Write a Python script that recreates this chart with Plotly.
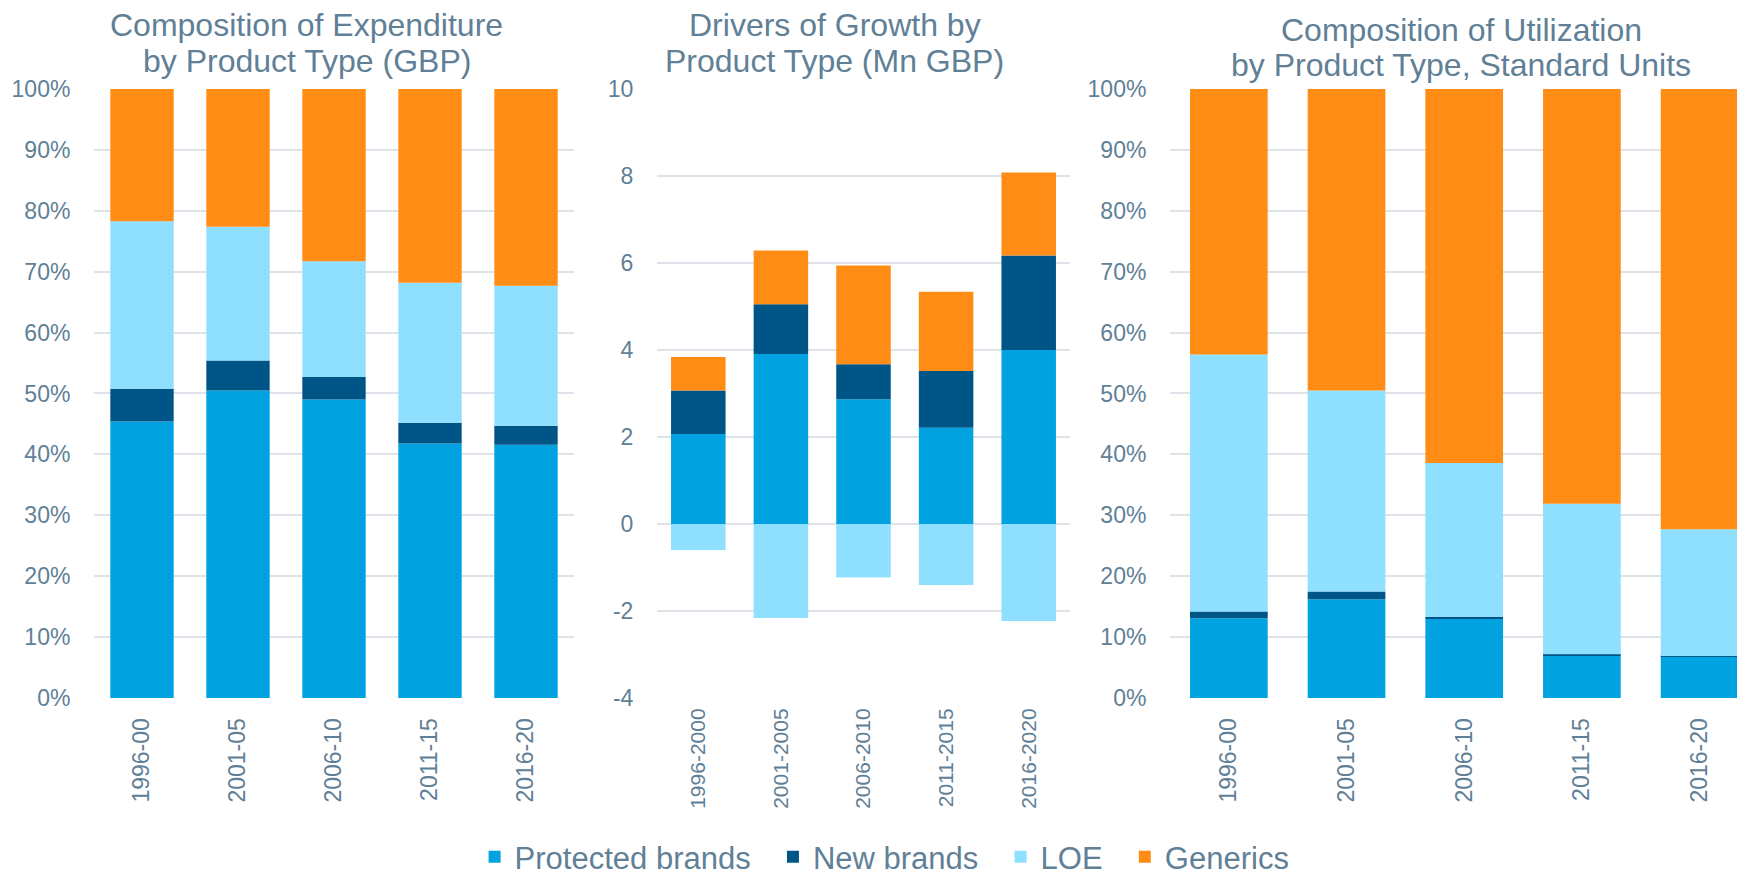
import plotly.graph_objects as go

# ---------------- data ----------------
periods_short = ["1996-00", "2001-05", "2006-10", "2011-15", "2016-20"]
periods_long = ["1996-2000", "2001-2005", "2006-2010", "2011-2015", "2016-2020"]
series_names = ["Protected brands", "New brands", "LOE", "Generics"]

# Composition of Expenditure (% of GBP)
exp_protected = [45.4, 50.5, 49.0, 41.8, 41.6]
exp_new = [5.4, 4.9, 3.7, 3.4, 3.1]
exp_loe = [27.5, 22.0, 19.0, 23.0, 23.0]
exp_generics = [21.7, 22.6, 28.3, 31.8, 32.3]

# Drivers of Growth (Mn GBP)
gr_protected = [2.07, 3.91, 2.87, 2.21, 4.0]
gr_new = [1.0, 1.14, 0.8, 1.31, 2.17]
gr_loe = [-0.6, -2.16, -1.23, -1.4, -2.23]
gr_generics = [0.77, 1.24, 2.27, 1.82, 1.91]

# Composition of Utilization (% of standard units)
ut_protected = [13.1, 16.2, 13.0, 7.0, 6.8]
ut_new = [1.1, 1.3, 0.3, 0.2, 0.1]
ut_loe = [42.2, 33.0, 25.3, 24.7, 20.8]
ut_generics = [43.6, 49.5, 61.4, 68.1, 72.3]

growth_tickvals = [-4, -2, 0, 2, 4, 6, 8, 10]
growth_ticktext = ["-4", "-2", "0", "2", "4", "6", "8", "10"]

titles = [
    ["Composition of Expenditure", "by Product Type (GBP)"],
    ["Drivers of Growth by", "Product Type (Mn GBP)"],
    ["Composition of Utilization", "by Product Type, Standard Units"],
]

# ---------------- style ----------------
colors = ["#00A3E0", "#005587", "#8FDFFF", "#FF8C14"]
text_color = "#5F8096"
grid_color = "#DDE3E8"
font_family = "Liberation Sans, Arial, sans-serif"
legend_pad = ["\u00a0\u00a0", "\u00a0\u00a0", "\u00a0\u00a0", ""]

W, H = 1729, 870

fig = go.Figure()

panels = [
    (periods_short, [exp_protected, exp_new, exp_loe, exp_generics], "x", "y"),
    (periods_long, [gr_protected, gr_new, gr_loe, gr_generics], "x2", "y2"),
    (periods_short, [ut_protected, ut_new, ut_loe, ut_generics], "x3", "y3"),
]

for pi, (cats, vals, xa, ya) in enumerate(panels):
    for si, name in enumerate(series_names):
        fig.add_trace(go.Bar(
            x=cats, y=vals[si], name=name + legend_pad[si], xaxis=xa, yaxis=ya,
            marker=dict(color=colors[si], line=dict(width=0)),
            width=0.66, showlegend=(pi == 0), legendgroup=name,
        ))

ydom = [0.2069, 0.9069]
common_x = dict(
    type="category", tickangle=-90, showgrid=False, zeroline=False, showline=False,
    ticks="outside", ticklen=10, tickcolor="rgba(0,0,0,0)", automargin=False,
    tickfont=dict(size=23, color=text_color, family=font_family),
)
common_y = dict(
    showgrid=True, gridcolor=grid_color, gridwidth=2, zeroline=False, showline=False,
    ticks="outside", ticklen=18, tickcolor="rgba(0,0,0,0)", automargin=False,
    tickfont=dict(size=23, color=text_color, family=font_family),
)

fig.update_layout(
    template="none",
    width=W, height=H,
    margin=dict(l=0, r=0, t=0, b=0, autoexpand=False),
    paper_bgcolor="white", plot_bgcolor="white",
    barmode="relative",
    font=dict(family=font_family, color=text_color),
    xaxis=dict(domain=[0.04974, 0.32736], anchor="y", range=[-0.5, 4.5], **common_x),
    yaxis=dict(domain=ydom, anchor="x", range=[0, 100], dtick=10, ticksuffix="%", **common_y),
    xaxis2=dict(domain=[0.37536, 0.61423], anchor="y2", range=[-0.5, 4.5],
                **{**common_x, "ticklen": 1,
                   "tickfont": dict(size=21, color=text_color, family=font_family)}),
    yaxis2=dict(domain=ydom, anchor="x2", range=[-4, 10], tickmode="array",
                tickvals=growth_tickvals, ticktext=growth_ticktext, **common_y),
    xaxis3=dict(domain=[0.67207, 1.0], anchor="y3", range=[-0.5, 4.318], **common_x),
    yaxis3=dict(domain=ydom, anchor="x3", range=[0, 100], dtick=10, ticksuffix="%", **common_y),
    legend=dict(
        orientation="h", x=0.507, xanchor="center", y=-0.007, yanchor="bottom",
        font=dict(size=31, color=text_color, family=font_family),
        bgcolor="rgba(0,0,0,0)", traceorder="normal", borderwidth=0,
    ),
    showlegend=True,
)

# titles (one annotation per line)
title_x = [0.1729, 0.4783, 0.8404]
title_baselines = [[37, 72.5], [37, 72.5], [42, 77.5]]
for t, x, bls in zip(titles, title_x, title_baselines):
    for line, bl in zip(t, bls):
        fig.add_annotation(
            text=line, x=x, y=1 - bl / H, xref="paper", yref="paper",
            xanchor="center", yanchor="bottom", showarrow=False,
            font=dict(size=32, color=text_color, family=font_family),
        )

fig.write_html("out.html")
